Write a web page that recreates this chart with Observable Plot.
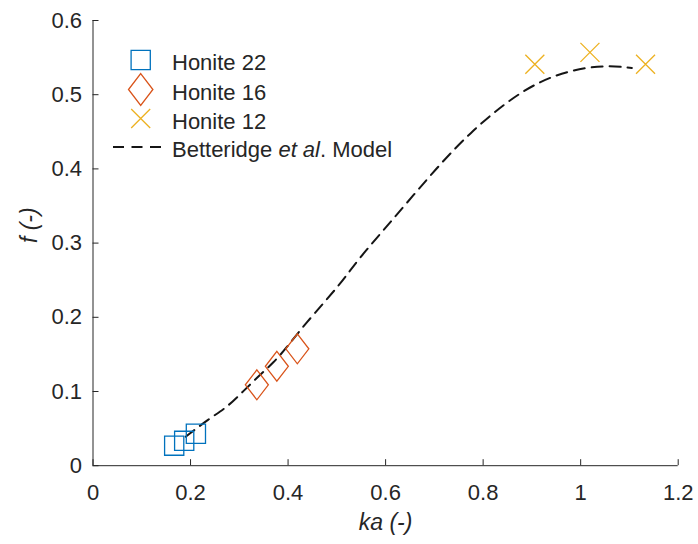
<!DOCTYPE html>
<html>
<head>
<meta charset="utf-8">
<script src="https://cdn.jsdelivr.net/npm/d3@7"></script>
<script src="https://cdn.jsdelivr.net/npm/@observablehq/plot@0.6"></script>
<style>
  html, body { margin: 0; padding: 0; background: #fff; }
  #wrap { position: relative; width: 698px; height: 544px; font-family: "Liberation Sans", Arial, sans-serif; }
  #legend { position: absolute; left: 0; top: 0; }
</style>
</head>
<body>
<div id="wrap"></div>
<script>
// ---- data ----
const h22X = [0.1665, 0.187, 0.211];
const h22Y = [0.027, 0.0335, 0.043];
const h16X = [0.336, 0.377, 0.419];
const h16Y = [0.109, 0.134, 0.1575];
const h12X = [0.906, 1.019, 1.133];
const h12Y = [0.541, 0.557, 0.541];
const modelX = [0.19, 0.2375, 0.275, 0.306, 0.337, 0.371, 0.395, 0.432, 0.508, 0.542, 0.61, 0.709, 0.774, 0.843, 0.911, 0.979, 1.048, 1.105];
const modelY = [0.039, 0.0632, 0.0788, 0.099, 0.119, 0.1395, 0.1575, 0.189, 0.245, 0.277, 0.328, 0.405, 0.449, 0.488, 0.517, 0.533, 0.540, 0.536];
const xTicks = [0, 0.2, 0.4, 0.6, 0.8, 1, 1.2];
const yTicks = [0, 0.1, 0.2, 0.3, 0.4, 0.5, 0.6];
const seriesNames = ["Honite 22", "Honite 16", "Honite 12"];
const colors = ["#0072BD", "#D95319", "#EDB120"];

const zip = (xs, ys) => xs.map((x, i) => ({x, y: ys[i]}));
const model = zip(modelX, modelY);

const sqSym = {draw(c, size) { const r = Math.sqrt(size / Math.PI); c.moveTo(-r, -r); c.lineTo(r, -r); c.lineTo(r, r); c.lineTo(-r, r); c.closePath(); }};
const diSym = {draw(c, size) { const r = Math.sqrt(size / Math.PI), h = r * 1.3; c.moveTo(0, -h); c.lineTo(r, 0); c.lineTo(0, h); c.lineTo(-r, 0); c.closePath(); }};
const xSym  = {draw(c, size) { const r = Math.sqrt(size / Math.PI); c.moveTo(-r, -r); c.lineTo(r, r); c.moveTo(r, -r); c.lineTo(-r, r); }};

const fmt = d => String(+d.toFixed(1));
const ink = "#262626";

const chart = Plot.plot({
  width: 698, height: 544,
  marginLeft: 92.5, marginRight: 20.3, marginTop: 20, marginBottom: 78.8,
  style: {fontFamily: "'Liberation Sans', Arial, sans-serif", color: ink, background: "#fff", overflow: "visible"},
  x: {domain: [0, 1.2]},
  y: {domain: [0, 0.6]},
  marks: [
    Plot.axisX(xTicks, {tickSize: -6, tickPadding: 25, tickFormat: fmt, label: null, fontSize: 22}),
    Plot.axisY(yTicks, {tickSize: -6, tickPadding: 17, tickFormat: fmt, label: null, fontSize: 22}),
    Plot.ruleX([0], {stroke: ink}),
    Plot.ruleY([0], {stroke: ink}),
    Plot.line(model, {x: "x", y: "y", stroke: "#151515", strokeWidth: 2, strokeDasharray: "11,7", curve: "basis"}),
    Plot.dot(zip(h22X, h22Y), {x: "x", y: "y", r: 9.6, symbol: sqSym, stroke: colors[0], fill: "none", strokeWidth: 1.3}),
    Plot.dot(zip(h16X, h16Y), {x: "x", y: "y", r: 11.5, symbol: diSym, stroke: colors[1], fill: "none", strokeWidth: 1.3}),
    Plot.dot(zip(h12X, h12Y), {x: "x", y: "y", r: 9.5, symbol: xSym, stroke: colors[2], fill: "none", strokeWidth: 1.3}),
    Plot.text(["ka (-)"], {frameAnchor: "bottom", dy: 64, fontStyle: "italic", fontSize: 23, fill: ink}),
    Plot.text(["f (-)"], {frameAnchor: "left", dx: -63, rotate: -90, fontStyle: "italic", fontSize: 23, fill: ink})
  ]
});
const wrap = document.getElementById("wrap");
wrap.appendChild(chart);

// ---- legend overlay ----
const lg = d3.select(wrap).append("svg").attr("id", "legend").attr("width", 698).attr("height", 200)
  .style("font-family", "'Liberation Sans', Arial, sans-serif").style("font-size", "22px");
const rowY = [60, 89.5, 118.5, 147];
const mx = 140.7;
const sym = [d3.symbol().type(sqSym).size(Math.PI * 9.6 * 9.6), d3.symbol().type(diSym).size(Math.PI * 12.2 * 12.2), d3.symbol().type(xSym).size(Math.PI * 9.5 * 9.5)];
seriesNames.forEach((name, i) => {
  lg.append("path").attr("d", sym[i]()).attr("transform", `translate(${mx},${rowY[i]})`)
    .attr("fill", "none").attr("stroke", colors[i]).attr("stroke-width", 1.3);
  lg.append("text").attr("x", 172).attr("y", rowY[i] + 10).attr("fill", ink).text(name);
});
lg.append("line").attr("x1", 113).attr("x2", 167).attr("y1", rowY[3]).attr("y2", rowY[3])
  .attr("stroke", "#151515").attr("stroke-width", 2).attr("stroke-dasharray", "11,7.5");
const t = lg.append("text").attr("x", 172).attr("y", rowY[3] + 10).attr("fill", ink);
t.append("tspan").text("Betteridge ");
t.append("tspan").attr("font-style", "italic").text("et al");
t.append("tspan").text(". Model");
</script>
</body>
</html>
